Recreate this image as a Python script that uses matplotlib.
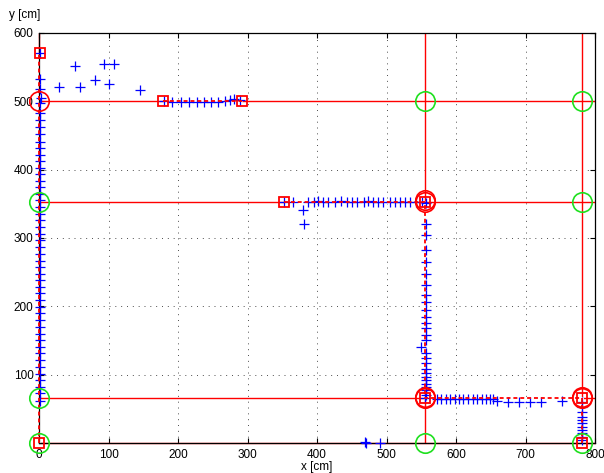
import matplotlib
matplotlib.use("Agg")
import matplotlib.pyplot as plt

plt.rcParams['font.family'] = ['Liberation Sans', 'DejaVu Sans']

# ---------------- data ----------------
# measured positions (blue +)
left_x = [2, 1, 2, 3, 1, 2, 1, 2, 1, 2, 2, 1, 2, 1, 2, 2, 1, 2, 1, 2, 2, 1, 2, 1, 2,
          1, 2, 2, 1, 2, 1, 2, 2, 1, 2, 1, 2, 2, 1, 2, 1, 2, 2, 1, 2, 1, 2, 1, 2]
left_y = [570, 533, 518, 505, 497, 483, 472, 462, 452, 441, 431, 421, 412, 403, 393,
          384, 374, 364, 355, 345, 335, 326, 316, 306, 297, 287, 277, 267, 258, 248,
          238, 229, 219, 209, 199, 190, 180, 170, 160, 151, 141, 131, 121, 111, 101,
          92, 82, 73, 62]
stray_x = [52, 93, 108, 29, 59, 81, 101, 145]
stray_y = [551, 555, 555, 521, 521, 531, 525, 517]
row500_x = [180, 192, 205, 216, 227, 237, 248, 258, 267, 275, 280, 289]
row500_y = [500, 499, 499, 499, 499, 499, 499, 499, 500, 502, 503, 502]
row353_x = [352, 365, 380, 382, 387, 395, 402, 409, 416, 426, 435, 443, 450, 457, 467,
            474, 481, 488, 495, 505, 512, 519, 527, 534, 543, 551]
row353_y = [353, 353, 341, 321, 353, 353, 354, 353, 353, 353, 354, 353, 353, 353, 353,
            354, 353, 353, 353, 353, 352, 353, 352, 352, 352, 352]
col555_x = [557, 557, 557, 557, 557, 557, 557, 557, 557, 557, 557, 557, 557, 557, 557,
            549, 557, 557, 557, 557, 557, 557, 557, 557, 557, 557, 557]
col555_y = [351, 321, 304, 283, 265, 247, 231, 217, 207, 195, 185, 176, 168, 158, 151,
            141, 131, 124, 117, 109, 102, 97, 92, 87, 82, 78, 70]
row66_x = [556, 572, 579, 585, 592, 598, 604, 610, 617, 624, 630, 637, 643, 649, 653,
           659, 675, 690, 706, 723, 752]
row66_y = [66, 65, 65, 65, 65, 65, 65, 65, 65, 65, 65, 65, 65, 64, 64,
           61, 60, 60, 60, 60, 62]
col781_x = [782, 782, 782, 782, 782, 782, 782, 782, 782, 782, 782]
col781_y = [60, 53, 46, 38, 34, 29, 24, 19, 14, 9, 4]
floor_x = [469, 471, 491]
floor_y = [1, 0, 0]

# corridor lines (red solid)
corr_y = [500, 353, 66, 0]
corr_x = [0, 555, 781]

# estimated path segments (red dashed), vertices = red squares
path_segments = [
    ([0, 0], [0, 570]),
    ([179, 292], [500, 500]),
    ([352, 555, 555, 781, 781], [353, 353, 66, 66, 0]),
]
square_x = [2, 179, 292, 352, 555, 555, 781, 781, 0]
square_y = [570, 500, 500, 353, 353, 66, 66, 0, 0]

# detected nodes (red circles) and map nodes (green circles)
visited_x = [0, 555, 556, 555, 556, 781, 782]
visited_y = [500, 353, 356, 66, 68, 66, 68]
unvisited_x = [0, 0, 0, 555, 781, 781, 555, 781]
unvisited_y = [353, 66, 0, 500, 500, 353, 0, 0]

x_ticks = [0, 100, 200, 300, 400, 500, 600, 700, 800]
y_ticks = [0, 100, 200, 300, 400, 500, 600]
y_tick_labels = ['', '100', '200', '300', '400', '500', '600']

# ---------------- figure ----------------
fig = plt.figure(figsize=(6.04, 4.73), dpi=100)
ax = fig.add_axes([39 / 604, 30 / 473, 556 / 604, 410 / 473])
ax.set_xlim(0, 800)
ax.set_ylim(0, 600)

RED = '#ff0000'
for yv in corr_y:
    ax.plot([0, 800], [yv, yv], color=RED, lw=1.0, zorder=2, clip_on=False,
            solid_capstyle='butt')
for xv in corr_x:
    ax.plot([xv, xv], [0, 600], color=RED, lw=1.0, zorder=2, clip_on=False,
            solid_capstyle='butt')

# white underlay hides corridor lines under the path
for px, py in path_segments:
    ax.plot(px, py, color='white', lw=2.2, zorder=2.2, clip_on=False,
            solid_capstyle='butt')

for sp in ax.spines.values():
    sp.set_linewidth(0.9)
    sp.set_color('black')
    sp.set_zorder(2.4)

blue_x = left_x + stray_x + row500_x + row353_x + col555_x + row66_x + col781_x + floor_x
blue_y = left_y + stray_y + row500_y + row353_y + col555_y + row66_y + col781_y + floor_y
ax.plot(blue_x, blue_y, linestyle='none', marker='+', color='#0000ff',
        markersize=7, markeredgewidth=0.9, zorder=3, clip_on=False)

for px, py in path_segments:
    ax.plot(px, py, color=RED, lw=1.3, linestyle=(0, (2.2, 1.6)), zorder=3.5,
            clip_on=False)

ax.plot(square_x, square_y, linestyle='none', marker='s', markersize=7.5,
        markerfacecolor='none', markeredgecolor=RED, markeredgewidth=1.3,
        zorder=4, clip_on=False)
ax.plot(visited_x, visited_y, linestyle='none', marker='o', markersize=14,
        markerfacecolor='none', markeredgecolor=RED, markeredgewidth=1.2,
        zorder=4, clip_on=False)
ax.plot(unvisited_x, unvisited_y, linestyle='none', marker='o', markersize=14,
        markerfacecolor='none', markeredgecolor='#1ee01e', markeredgewidth=1.2,
        zorder=4, clip_on=False)

ax.set_xticks(x_ticks)
ax.set_yticks(y_ticks)
ax.set_yticklabels(y_tick_labels)
ax.tick_params(direction='in', length=3.5, width=0.8, top=True, right=True,
               labelsize=8.5, pad=4, colors='black')
ax.grid(True, color='0.3', linestyle=(0, (1, 5)), linewidth=0.7)
ax.set_axisbelow(True)

fig.text(25 / 604, 1 - 15 / 473, 'y [cm]', ha='center', va='center', fontsize=8.5)
fig.text(317 / 604, 1 - 467 / 473, 'x [cm]', ha='center', va='center', fontsize=8.5)

fig.savefig('out.png', dpi=100)
